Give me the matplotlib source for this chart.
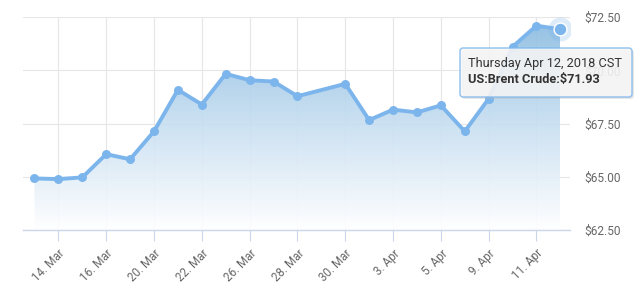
import numpy as np
import matplotlib.pyplot as plt
from matplotlib.colors import LinearSegmentedColormap
from matplotlib.patches import FancyBboxPatch, Polygon

plt.rcParams['font.family'] = ['Roboto', 'DejaVu Sans']

# Trading-day slots on the ordinal x axis (29 Mar has a slot but no quote)
slots = ["13 Mar", "14 Mar", "15 Mar", "16 Mar", "19 Mar", "20 Mar", "21 Mar",
         "22 Mar", "23 Mar", "26 Mar", "27 Mar", "28 Mar", "29 Mar", "30 Mar",
         "2 Apr", "3 Apr", "4 Apr", "5 Apr", "6 Apr", "9 Apr", "10 Apr",
         "11 Apr", "12 Apr"]
dates = ["13 Mar", "14 Mar", "15 Mar", "16 Mar", "19 Mar", "20 Mar", "21 Mar",
         "22 Mar", "23 Mar", "26 Mar", "27 Mar", "28 Mar", "30 Mar",
         "2 Apr", "3 Apr", "4 Apr", "5 Apr", "6 Apr", "9 Apr", "10 Apr",
         "11 Apr", "12 Apr"]
prices = [64.93, 64.90, 64.98, 66.07, 65.83, 67.14, 69.09, 68.40, 69.84,
          69.54, 69.48, 68.79, 69.37, 67.67, 68.16, 68.03, 68.36, 67.14,
          68.67, 71.11, 72.10, 71.93]
tick_labels = ["14. Mar", "16. Mar", "20. Mar", "22. Mar", "26. Mar", "28. Mar",
               "30. Mar", "3. Apr", "5. Apr", "9. Apr", "11. Apr"]
y_ticks = [62.5, 65.0, 67.5, 70.0, 72.5]

x = np.array([slots.index(d) for d in dates], dtype=float)
y = np.array(prices)
tick_pos = [slots.index(t.replace(".", "")) for t in tick_labels]

line_col = "#7cb5ec"

fig = plt.figure(figsize=(6.44, 2.86), dpi=100)
ax = fig.add_axes([0.035, 0.195, 0.85, 0.745])
ax.set_xlim(-0.5, 22.4)
ax.set_ylim(62.5, 72.5)

# grid
for t in tick_pos:
    ax.axvline(t, color="#e6e6e6", lw=0.8, zorder=0)
for v in y_ticks:
    ax.axhline(v, color="#e6e6e6", lw=0.8, zorder=0)

# gradient area
cmap = LinearSegmentedColormap.from_list("g", ["#ffffff", "#c6def1", "#86b9e0"])
grad = np.linspace(0, 1, 256).reshape(-1, 1)
im = ax.imshow(grad, cmap=cmap, origin="lower", aspect="auto",
               extent=[x[0], x[-1], 62.5, 72.5], alpha=0.9, zorder=1)
poly = Polygon(np.column_stack([np.r_[x[0], x, x[-1]], np.r_[62.5, y, 62.5]]),
               closed=True, transform=ax.transData, facecolor="none", edgecolor="none")
ax.add_patch(poly)
im.set_clip_path(poly)

ax.plot(x, y, color=line_col, lw=2.8, zorder=3, solid_joinstyle="round")
ax.scatter(x[:-1], y[:-1], s=42, color=line_col, zorder=4, linewidths=0)
# hovered point
ax.scatter(x[-1:], y[-1:], s=300, color=line_col, alpha=0.25, zorder=4, linewidths=0)
ax.scatter(x[-1:], y[-1:], s=85, color=line_col, zorder=5, edgecolors="white", linewidths=1)

# axes styling
for s in ["top", "right", "left"]:
    ax.spines[s].set_visible(False)
ax.spines["bottom"].set_color("#ccd6eb")
ax.spines["bottom"].set_linewidth(1)
ax.set_xticks(tick_pos)
ax.set_xticklabels(tick_labels, rotation=45, ha="right", rotation_mode="anchor",
                   fontsize=8.4, color="#666666")
ax.tick_params(axis="x", length=8, color="#ccd6eb", pad=4)
ax.yaxis.tick_right()
ax.set_yticks(y_ticks)
ax.set_yticklabels(["${:.2f}".format(v) for v in y_ticks], fontsize=8.6, color="#666666")
ax.tick_params(axis="y", length=0, pad=10)

# tooltip
fig.patches.append(FancyBboxPatch((462, 286 - 99), 172, 49, boxstyle="round,pad=0,rounding_size=3",
                                  transform=None, facecolor="#bbbbbb", edgecolor="none",
                                  alpha=0.35, zorder=9))
fig.patches.append(FancyBboxPatch((460, 286 - 97), 172, 49, boxstyle="round,pad=0,rounding_size=3",
                                  transform=None, facecolor="#f7f7f7", edgecolor=line_col,
                                  lw=1, alpha=0.85, zorder=10))
fig.text(468, 286 - 63, "Thursday Apr 12, 2018 CST", transform=None, fontsize=9.2,
         color="#333333", va="center", zorder=11)
fig.text(468, 286 - 80, "US:Brent Crude:$71.93", transform=None, fontsize=9.2,
         color="#333333", fontweight="bold", va="center", zorder=11)

fig.savefig("out.png", dpi=100)
